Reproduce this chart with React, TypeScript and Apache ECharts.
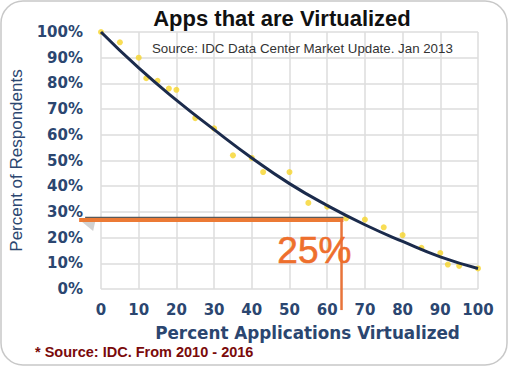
import React, { useEffect, useRef } from "react";
import * as echarts from "echarts";

const xTicks = [0, 10, 20, 30, 40, 50, 60, 70, 80, 90, 100];
const yTicks = [0, 10, 20, 30, 40, 50, 60, 70, 80, 90, 100];
const surveyX = [0, 5, 10, 12, 15, 18, 20, 25, 30, 35, 40, 43, 50, 55, 60, 65, 70, 75, 80, 85, 90, 92, 95, 100];
const surveyY = [100, 96, 90, 82, 81, 78, 77.5, 66.5, 62.5, 52, 51, 45.5, 45.5, 33.5, 32, 27.5, 27, 24, 21, 16, 14, 9.5, 9, 8];
const trendX = [0, 10, 20, 30, 40, 50, 60, 70, 80, 90, 100];
const trendY = [100, 86, 73.5, 62, 51, 41, 32.5, 25, 18.5, 12.5, 8];
const CUTOFF_X = 64.3;
const CUTOFF_Y = 26.8;
const ARROW_START_X = -5.8;
const VLINE_END_Y = -8.2;
const LABEL_X = 56.6;
const LABEL_Y = 15;

const NAVY = "#2b4670";

export default function App() {
  const ref = useRef<HTMLDivElement>(null);
  useEffect(() => {
    const chart = echarts.init(ref.current!, null, { renderer: "svg" });
    chart.setOption({
      animation: false,
      backgroundColor: "#ffffff",
      title: [
        {
          text: "Apps that are Virtualized",
          left: 277,
          top: 2,
          textAlign: "center",
          textStyle: { fontFamily: "Liberation Sans", fontWeight: "bold", fontSize: 22, color: "#111" },
        },
      ],
      grid: { left: 100, right: 30, top: 32, bottom: 77 },
      xAxis: {
        type: "value",
        min: 0,
        max: 100,
        interval: 10,
        name: "Percent Applications Virtualized",
        nameLocation: "middle",
        nameGap: 35,
        nameTextStyle: {
          fontFamily: "DejaVu Sans",
          fontWeight: "bold",
          fontSize: 16.8,
          color: NAVY,
          padding: [0, 0, 0, 36],
        },
        axisLine: { show: false },
        axisTick: { show: false },
        axisLabel: {
          margin: 13,
          fontFamily: "DejaVu Sans",
          fontWeight: "bold",
          fontSize: 15,
          color: NAVY,
          formatter: (v: number) => (xTicks.includes(v) ? String(v) : ""),
        },
        splitLine: { show: true, lineStyle: { color: "#dcdcdc", width: 1.5 } },
      },
      yAxis: {
        type: "value",
        min: 0,
        max: 100,
        interval: 10,
        name: "Percent of Respondents",
        nameLocation: "middle",
        nameGap: 76,
        nameRotate: 90,
        nameTextStyle: { fontFamily: "Liberation Sans", fontSize: 17, color: NAVY },
        axisLine: { show: false },
        axisTick: { show: false },
        axisLabel: {
          margin: 18,
          fontFamily: "DejaVu Sans",
          fontWeight: "bold",
          fontSize: 15,
          color: NAVY,
          formatter: (v: number) => (yTicks.includes(v) ? v + "%" : ""),
        },
        splitLine: { show: true, lineStyle: { color: "#dcdcdc", width: 1.5 } },
      },
      series: [
        {
          type: "scatter",
          data: surveyX.map((x, i) => [x, surveyY[i]]),
          symbolSize: 6,
          itemStyle: { color: "#f6d52a" },
          z: 2,
        },
        {
          type: "line",
          data: trendX.map((x, i) => [x, trendY[i]]),
          smooth: true,
          showSymbol: false,
          symbol: "none",
          lineStyle: { color: "#1b2b4c", width: 3 },
          z: 3,
        },
      ],
    });

    const p0 = chart.convertToPixel({ gridIndex: 0 }, [ARROW_START_X, CUTOFF_Y]) as number[];
    const p1 = chart.convertToPixel({ gridIndex: 0 }, [CUTOFF_X, CUTOFF_Y]) as number[];
    const p2 = chart.convertToPixel({ gridIndex: 0 }, [CUTOFF_X - 0.5, VLINE_END_Y]) as number[];
    const pl = chart.convertToPixel({ gridIndex: 0 }, [LABEL_X, LABEL_Y]) as number[];

    chart.setOption({
      graphic: [
        {
          type: "rect",
          shape: { x: 1, y: 1, width: 506, height: 364, r: 22 },
          style: { fill: "none", stroke: "#c8c8c8", lineWidth: 1.5 },
          z: 0,
          silent: true,
        },
        {
          type: "polygon",
          shape: { points: [[p0[0] + 3, p0[1] + 2], [p0[0] + 16, p0[1] + 2], [p0[0] + 14, p0[1] + 11]] },
          style: { fill: "#bdbdbd", opacity: 0.7 },
          z: 50,
        },
        {
          type: "line",
          shape: { x1: p0[0] + 6, y1: p0[1] - 2.5, x2: p1[0], y2: p1[1] - 2.5 },
          style: { stroke: "#5a5a5a", lineWidth: 1.5 },
          z: 50,
        },
        {
          type: "line",
          shape: { x1: p0[0], y1: p0[1], x2: p1[0], y2: p1[1] },
          style: { stroke: "#ec7a35", lineWidth: 4 },
          z: 51,
        },
        {
          type: "line",
          shape: { x1: p2[0], y1: p1[1], x2: p2[0], y2: p2[1] },
          style: { stroke: "#e8743a", lineWidth: 2.5 },
          z: 51,
        },
        {
          type: "text",
          x: pl[0],
          y: pl[1],
          style: {
            text: "25%",
            fontFamily: "Liberation Sans",
            fontSize: 37,
            fill: "#ee6f2d",
            stroke: "#ee6f2d",
            lineWidth: 0.6,
            align: "center",
            verticalAlign: "middle",
          },
          z: 52,
        },
        {
          type: "text",
          x: 152,
          y: 48,
          style: {
            text: "Source: IDC Data Center Market Update. Jan 2013",
            fontFamily: "Liberation Sans",
            fontSize: 13.3,
            fill: "#333333",
            verticalAlign: "middle",
          },
          z: 52,
        },
        {
          type: "text",
          x: 35,
          y: 352,
          style: {
            text: "* Source: IDC. From 2010 - 2016",
            fontFamily: "Liberation Sans",
            fontWeight: "bold",
            fontSize: 14.5,
            fill: "#7a0a0a",
            verticalAlign: "middle",
          },
          z: 52,
        },
      ],
    });
    return () => chart.dispose();
  }, []);
  return <div ref={ref} style={{ position: "fixed", left: 0, top: 0, width: 508, height: 366 }} />;
}
